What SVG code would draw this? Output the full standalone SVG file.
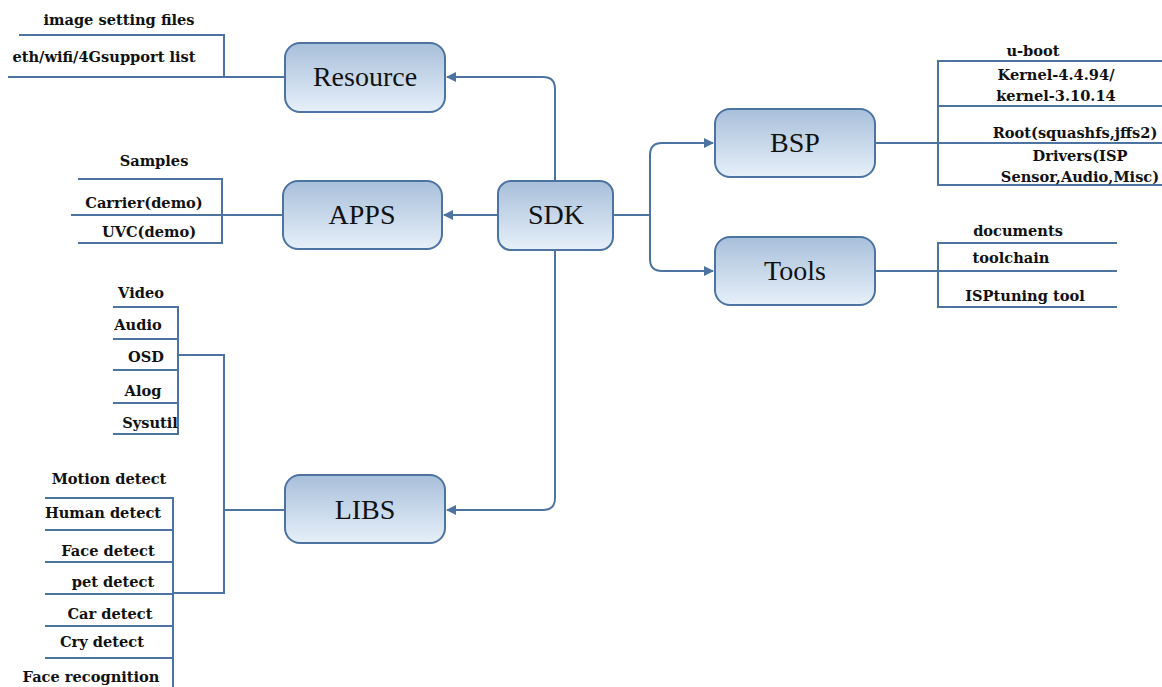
<svg xmlns="http://www.w3.org/2000/svg" width="1162" height="687" viewBox="0 0 1162 687">
  <defs>
    <linearGradient id="boxFill" x1="0" y1="0" x2="0" y2="1">
      <stop offset="0" stop-color="#a8bfda"/>
      <stop offset="1" stop-color="#e6f0f9"/>
    </linearGradient>
    <marker id="arrow" viewBox="0 0 10 10" refX="9" refY="5" markerWidth="10" markerHeight="10" markerUnits="userSpaceOnUse" orient="auto">
      <path d="M0,0 L10,5 L0,10 z" fill="#4d73a3"/>
    </marker>
  </defs>
  <style>
    .box { fill: url(#boxFill); stroke: #4d73a3; stroke-width: 2; }
    .title { font-family: "Liberation Serif", serif; font-size: 28px; fill: #111; text-anchor: middle; }
    .wire { fill: none; stroke: #4d73a3; stroke-width: 2; }
    .item { font-family: "DejaVu Serif", "Liberation Serif", serif; font-weight: bold; font-size: 14.6px; fill: #111; text-anchor: middle; }
  </style>
  <rect width="1162" height="687" fill="#fff"/>

  <g id="connectors">
    <!-- SDK to its children -->
    <path class="wire" d="M555,181 V89 Q555,77 543,77 H447" marker-end="url(#arrow)"/>
    <path class="wire" d="M498,215 H444" marker-end="url(#arrow)"/>
    <path class="wire" d="M555,250 V498 Q555,510 543,510 H447" marker-end="url(#arrow)"/>
    <path class="wire" d="M613,215 H650"/>
    <path class="wire" d="M650,215 V155 Q650,143 662,143 H713" marker-end="url(#arrow)"/>
    <path class="wire" d="M650,215 V259 Q650,271 662,271 H713" marker-end="url(#arrow)"/>

    <!-- Resource list -->
    <path class="wire" d="M285,77 H8"/>
    <path class="wire" d="M19,35 H224 V77"/>

    <!-- APPS list -->
    <path class="wire" d="M283,215 H71"/>
    <path class="wire" d="M78,179 H222 V243 H78"/>

    <!-- LIBS lists -->
    <path class="wire" d="M285,510 H224"/>
    <path class="wire" d="M178,355 H224 V593 H173"/>
    <path class="wire" d="M113,307 H178 V434 H113"/>
    <path class="wire" d="M113,339 H178 M113,370 H178 M113,403 H178"/>
    <path class="wire" d="M45,498 H173 V687"/>
    <path class="wire" d="M45,530 H173 M45,562 H173 M45,594 H173 M45,626 H173 M45,658 H173"/>

    <!-- BSP list -->
    <path class="wire" d="M875,143 H1162"/>
    <path class="wire" d="M1162,61 H938 V185 H1162"/>
    <path class="wire" d="M938,106 H1162"/>

    <!-- Tools list -->
    <path class="wire" d="M875,271 H1117"/>
    <path class="wire" d="M1117,243 H938 V307 H1117"/>
  </g>

  <g id="sdk">
    <rect class="box" x="498" y="181" width="115" height="69" rx="13"/>
    <text class="title" x="556" y="224">SDK</text>
  </g>
  <g id="resource">
    <rect class="box" x="285" y="43" width="160" height="69" rx="15"/>
    <text class="title" x="365" y="86">Resource</text>
  </g>
  <g id="apps">
    <rect class="box" x="283" y="181" width="159" height="68" rx="15"/>
    <text class="title" x="362" y="224">APPS</text>
  </g>
  <g id="libs">
    <rect class="box" x="285" y="475" width="160" height="68" rx="15"/>
    <text class="title" x="365" y="519">LIBS</text>
  </g>
  <g id="bsp">
    <rect class="box" x="715" y="109" width="160" height="68" rx="15"/>
    <text class="title" x="795" y="152">BSP</text>
  </g>
  <g id="tools">
    <rect class="box" x="715" y="237" width="160" height="68" rx="15"/>
    <text class="title" x="795" y="280">Tools</text>
  </g>

  <g id="resource-items">
    <text class="item" x="119" y="25">image setting files</text>
    <text class="item" x="104" y="62">eth/wifi/4Gsupport list</text>
  </g>
  <g id="apps-items">
    <text class="item" x="154" y="166">Samples</text>
    <text class="item" x="144" y="208">Carrier(demo)</text>
    <text class="item" x="149" y="237">UVC(demo)</text>
  </g>
  <g id="libs-items">
    <text class="item" x="141" y="298">Video</text>
    <text class="item" x="138" y="330">Audio</text>
    <text class="item" x="146" y="362">OSD</text>
    <text class="item" x="143" y="396">Alog</text>
    <text class="item" x="150" y="428">Sysutil</text>
    <text class="item" x="109" y="484">Motion detect</text>
    <text class="item" x="103" y="518">Human detect</text>
    <text class="item" x="108" y="556">Face detect</text>
    <text class="item" x="113" y="587">pet detect</text>
    <text class="item" x="110" y="619">Car detect</text>
    <text class="item" x="102" y="647">Cry detect</text>
    <text class="item" x="91" y="682">Face recognition</text>
  </g>
  <g id="bsp-items">
    <text class="item" x="1033" y="56">u-boot</text>
    <text class="item" x="1056" y="80">Kernel-4.4.94/</text>
    <text class="item" x="1056" y="101">kernel-3.10.14</text>
    <text class="item" x="1075" y="138">Root(squashfs,jffs2)</text>
    <text class="item" x="1080" y="161">Drivers(ISP</text>
    <text class="item" x="1080" y="182">Sensor,Audio,Misc)</text>
  </g>
  <g id="tools-items">
    <text class="item" x="1018" y="236">documents</text>
    <text class="item" x="1011" y="263">toolchain</text>
    <text class="item" x="1025" y="301">ISPtuning tool</text>
  </g>
</svg>
